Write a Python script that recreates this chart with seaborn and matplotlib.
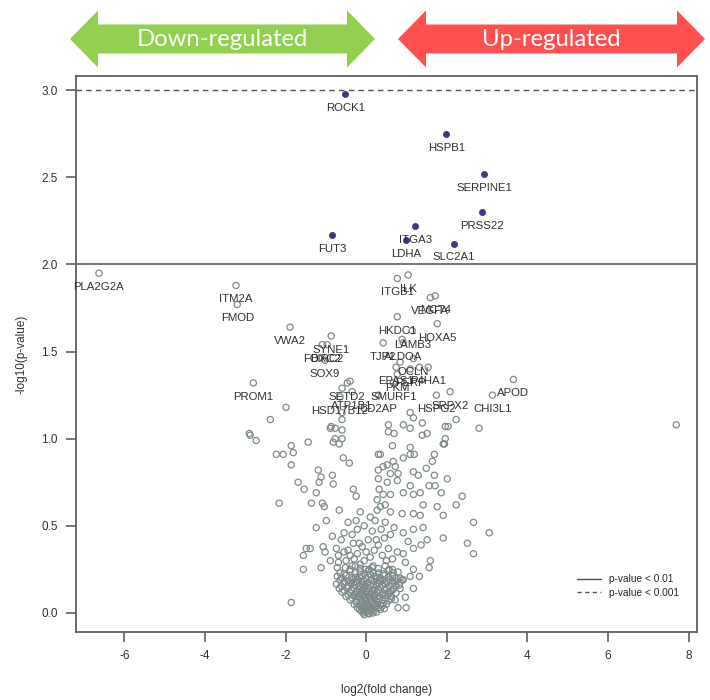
import matplotlib
matplotlib.use("Agg")
import matplotlib.pyplot as plt
import seaborn as sns
import pandas as pd
from matplotlib.patches import Polygon
from matplotlib.lines import Line2D

# genes passing p < 0.01 (filled points)
sig_genes = ["ROCK1", "HSPB1", "SERPINE1", "PRSS22", "ITGA3", "FUT3", "SLC2A1", "LDHA"]
sig_fc = [-0.52, 1.99, 2.93, 2.88, 1.22, -0.84, 2.18, 0.99]
sig_logp = [2.98, 2.75, 2.52, 2.30, 2.22, 2.17, 2.12, 2.14]

# labelled genes below the threshold
lab_genes = ["PLA2G2A", "ITM2A", "FMOD", "VWA2", "SYNE1", "FOXC2", "BIRC2", "SOX9",
             "PROM1", "SETD2", "ATP1B1", "HSD17B12", "SMURF1", "CD2AP", "HSPG2",
             "SRPX2", "CHI3L1", "APOD", "ITGB1", "ILK", "VEGFA", "MCT4", "HKDC1",
             "HOXA5", "LAMB3", "TJP2", "ALDOA", "OCLN", "EPAS1", "PERP", "P4HA1", "PKM"]
lab_fc = [-6.63, -3.23, -3.20, -1.89, -0.87, -1.09, -0.97, -1.02,
          -2.80, -0.47, -0.35, -0.65, 0.67, 0.30, 1.74,
          2.08, 3.13, 3.65, 0.77, 1.04, 1.59, 1.71, 0.77,
          1.76, 1.14, 0.42, 0.92, 1.17, 0.74, 1.09, 1.54, 0.77]
lab_logp = [1.95, 1.88, 1.77, 1.64, 1.59, 1.54, 1.54, 1.45,
            1.32, 1.32, 1.27, 1.24, 1.32, 1.25, 1.25,
            1.27, 1.25, 1.34, 1.92, 1.94, 1.81, 1.82, 1.70,
            1.66, 1.62, 1.55, 1.55, 1.46, 1.41, 1.40, 1.41, 1.37]

# remaining genes, scattered part
bg_spread = [
    (-0.40, 1.33), (-0.60, 1.29), (-1.99, 1.18), (-2.38, 1.11), (-0.89, 1.06),
    (-0.77, 1.06), (-0.60, 1.05), (-0.60, 1.11), (-0.60, 1.15), (-2.90, 1.03),
    (-2.73, 0.99), (-0.77, 1.00), (-0.60, 1.00), (0.89, 1.57), (1.32, 1.41),
    (0.84, 1.44), (1.09, 1.15), (1.17, 1.12), (1.39, 1.09), (0.92, 1.08),
    (1.09, 1.06), (0.55, 1.08), (0.55, 1.04), (0.69, 1.03), (1.51, 1.03),
    (1.39, 1.02), (1.96, 1.07), (2.03, 1.07), (2.23, 1.11), (2.80, 1.06),
    (1.96, 1.00), (1.94, 0.97), (1.69, 0.91), (7.69, 1.08),
    (-1.86, 0.96), (-1.44, 0.98), (-2.23, 0.91), (-2.06, 0.91), (-1.81, 0.92),
    (-1.86, 0.85), (-1.19, 0.82), (-0.84, 0.79), (-1.12, 0.78), (-1.69, 0.75),
    (-1.17, 0.75), (-0.82, 0.74), (-1.54, 0.71), (-1.24, 0.69), (-0.32, 0.71),
    (-0.25, 0.67), (-2.16, 0.63), (-1.36, 0.63), (-1.09, 0.63), (-1.04, 0.61),
    (-0.67, 0.59), (-0.99, 0.53), (-0.45, 0.52), (-0.25, 0.53), (-1.24, 0.49),
    (-0.22, 0.48), (-0.84, 0.44), (-0.55, 0.46), (-0.62, 0.42), (-0.32, 0.40),
    (-0.17, 0.40), (-1.49, 0.37), (-1.39, 0.37), (-1.07, 0.38), (-0.74, 0.37),
    (-1.56, 0.33), (-1.02, 0.35), (-0.69, 0.33), (-0.45, 0.36), (-0.22, 0.34),
    (-0.89, 0.30), (-0.69, 0.29), (-0.35, 0.27), (-0.15, 0.28), (-1.56, 0.25),
    (-1.12, 0.26), (-0.72, 0.26), (-1.86, 0.06), (-2.88, 1.02), (-0.87, 1.07),
    (-0.57, 0.89), (-0.42, 0.86), (-0.82, 0.98), (-0.67, 0.97), (0.30, 0.91),
    (0.65, 0.96), (1.09, 0.95), (1.91, 0.97), (0.35, 0.91), (0.92, 0.89),
    (1.09, 0.91), (1.19, 0.91), (0.67, 0.87), (1.64, 0.87), (0.42, 0.84),
    (0.52, 0.85), (0.72, 0.84), (1.17, 0.81), (1.49, 0.83), (1.29, 0.79),
    (1.69, 0.79), (2.01, 0.77), (0.30, 0.77), (0.60, 0.80), (0.79, 0.80),
    (0.77, 0.76), (0.52, 0.75), (1.09, 0.73), (1.56, 0.73), (1.71, 0.73),
    (1.86, 0.69), (2.38, 0.67), (2.23, 0.62), (1.34, 0.69), (1.17, 0.68),
    (0.92, 0.69), (0.60, 0.68), (0.27, 0.65), (1.41, 0.62), (1.76, 0.61),
    (1.91, 0.56), (1.34, 0.56), (1.17, 0.57), (0.89, 0.57), (0.60, 0.58),
    (0.35, 0.61), (2.66, 0.52), (3.05, 0.46), (1.41, 0.49), (1.17, 0.48),
    (0.92, 0.46), (0.69, 0.49), (0.47, 0.52), (2.51, 0.40), (2.66, 0.34),
    (1.91, 0.43), (1.51, 0.42), (1.36, 0.39), (1.17, 0.37), (1.04, 0.41),
    (0.92, 0.34), (0.77, 0.35), (1.59, 0.30), (1.56, 0.26), (0.97, 0.29),
    (1.17, 0.25), (1.32, 0.21), (1.17, 0.14), (0.97, 0.09), (0.99, 0.03),
    (0.79, 0.03), (1.09, 0.21), (0.89, 0.19), (0.17, 0.27),
    (0.30, 0.82), (0.32, 0.71), (0.27, 0.59), (0.37, 0.48), (0.30, 0.39),
    (0.40, 0.33), (0.25, 0.42), (0.42, 0.68), (0.47, 0.62), (0.22, 0.53),
    (-0.50, 0.30), (-0.30, 0.31), (-0.05, 0.30), (0.10, 0.32), (0.50, 0.30),
    (0.65, 0.31), (-0.40, 0.33), (0.00, 0.35), (0.20, 0.36), (0.55, 0.37),
    (-0.10, 0.38), (-0.55, 0.35), (0.05, 0.42), (0.45, 0.43), (-0.35, 0.45),
    (0.15, 0.47), (0.60, 0.45), (-0.05, 0.50), (0.10, 0.55), (-0.15, 0.58),
]

# remaining genes, dense part near the origin
bg_core = [
    (-0.52, 0.26), (-0.27, 0.27), (-0.02, 0.25), (0.15, 0.26), (0.47, 0.27), (0.65, 0.25),
    (-0.65, 0.23), (-0.40, 0.24), (-0.15, 0.235), (0.05, 0.24), (0.30, 0.23), (0.55, 0.245),
    (0.79, 0.235),
    (-0.72, 0.21), (-0.50, 0.215), (-0.27, 0.205), (-0.10, 0.21), (0.10, 0.22), (0.27, 0.205),
    (0.45, 0.215), (0.65, 0.21), (0.84, 0.20),
    (-0.65, 0.19), (-0.45, 0.185), (-0.32, 0.195), (-0.20, 0.19), (-0.05, 0.185), (0.12, 0.19),
    (0.25, 0.195), (0.40, 0.185), (0.57, 0.19), (0.74, 0.18), (0.92, 0.19),
    (-0.74, 0.165), (-0.55, 0.17), (-0.37, 0.165), (-0.22, 0.17), (-0.10, 0.165), (0.02, 0.17),
    (0.17, 0.16), (0.32, 0.17), (0.47, 0.165), (0.65, 0.17), (0.82, 0.16),
    (-0.67, 0.14), (-0.47, 0.145), (-0.30, 0.14), (-0.17, 0.135), (-0.05, 0.145), (0.07, 0.14),
    (0.20, 0.135), (0.35, 0.145), (0.50, 0.14), (0.67, 0.135), (0.84, 0.14),
    (-0.60, 0.12), (-0.40, 0.115), (-0.25, 0.12), (-0.12, 0.115), (0.00, 0.12), (0.12, 0.115),
    (0.27, 0.12), (0.42, 0.115), (0.57, 0.12), (0.74, 0.115),
    (-0.50, 0.095), (-0.32, 0.10), (-0.20, 0.095), (-0.07, 0.10), (0.05, 0.095), (0.17, 0.10),
    (0.32, 0.095), (0.47, 0.10), (0.62, 0.095),
    (-0.40, 0.075), (-0.25, 0.07), (-0.12, 0.075), (0.00, 0.07), (0.12, 0.075), (0.25, 0.07),
    (0.40, 0.075), (0.55, 0.07), (0.72, 0.075),
    (-0.30, 0.05), (-0.17, 0.045), (-0.05, 0.05), (0.07, 0.045), (0.20, 0.05), (0.35, 0.045),
    (0.50, 0.05),
    (-0.22, 0.03), (-0.10, 0.025), (0.02, 0.03), (0.15, 0.025), (0.30, 0.03), (0.45, 0.025),
    (-0.12, 0.01), (0.00, 0.005), (0.12, 0.01), (0.25, 0.005),
    (-0.05, -0.01), (0.07, -0.005),
    (-0.40, 0.25), (-0.15, 0.255), (0.07, 0.25), (0.30, 0.255), (0.57, 0.25),
    (-0.55, 0.225), (-0.27, 0.23), (-0.05, 0.225), (0.17, 0.23), (0.42, 0.225), (0.67, 0.23),
    (-0.60, 0.20), (-0.37, 0.20), (-0.17, 0.205), (0.00, 0.20), (0.20, 0.21), (0.35, 0.20),
    (0.55, 0.205), (0.74, 0.20),
    (-0.55, 0.18), (-0.40, 0.175), (-0.27, 0.18), (-0.12, 0.18), (0.05, 0.175), (0.20, 0.18),
    (0.32, 0.185), (0.50, 0.18), (0.65, 0.185), (0.84, 0.175),
    (-0.62, 0.155), (-0.45, 0.155), (-0.30, 0.16), (-0.15, 0.155), (-0.02, 0.155),
    (0.10, 0.16), (0.25, 0.155), (0.40, 0.16), (0.57, 0.155), (0.74, 0.155),
    (-0.55, 0.13), (-0.37, 0.13), (-0.22, 0.125), (-0.10, 0.13), (0.02, 0.13), (0.15, 0.125),
    (0.30, 0.13), (0.45, 0.13), (0.62, 0.125),
    (-0.45, 0.105), (-0.27, 0.105), (-0.15, 0.11), (-0.02, 0.105), (0.10, 0.105),
    (0.22, 0.11), (0.40, 0.105), (0.55, 0.105),
    (-0.35, 0.085), (-0.17, 0.085), (-0.05, 0.08), (0.07, 0.085), (0.20, 0.085),
    (0.32, 0.08), (0.47, 0.085), (0.62, 0.08),
    (-0.25, 0.06), (-0.10, 0.06), (0.02, 0.055), (0.15, 0.06), (0.27, 0.06), (0.42, 0.055),
    (-0.15, 0.04), (-0.02, 0.04), (0.10, 0.035), (0.25, 0.04), (0.40, 0.04),
    (-0.17, 0.02), (-0.05, 0.015), (0.07, 0.02), (0.20, 0.015), (0.35, 0.02),
    (-0.07, 0.0), (0.05, -0.002), (0.17, 0.0),
]

x_ticks = [-6, -4, -2, 0, 2, 4, 6, 8]
y_ticks = [0.0, 0.5, 1.0, 1.5, 2.0, 2.5, 3.0]
cut_01 = 2.0    # -log10(0.01)
cut_001 = 3.0   # -log10(0.001)

sns.set_style("white")
plt.rcParams["font.family"] = ["Liberation Sans", "DejaVu Sans"]
plt.rcParams["axes.unicode_minus"] = False

bg = pd.DataFrame(bg_spread + bg_core, columns=["fc", "logp"])
bg = pd.concat([bg, pd.DataFrame({"fc": lab_fc, "logp": lab_logp})], ignore_index=True)
sig = pd.DataFrame({"gene": sig_genes, "fc": sig_fc, "logp": sig_logp})

fig = plt.figure(figsize=(7.1, 7.0), dpi=100)
ax = fig.add_axes([0.107, 0.097, 0.875, 0.794])

grey = "#7f8a8a"
sns.scatterplot(data=bg, x="fc", y="logp", ax=ax, s=20, facecolor="none",
                edgecolor=grey, linewidth=0.9, zorder=2)
sns.scatterplot(data=sig, x="fc", y="logp", ax=ax, s=20, color="#3d3585",
                edgecolor="#3d3585", linewidth=0.5, zorder=3)

line_col = "#505050"
ax.axhline(cut_01, color=line_col, lw=1.1, ls="-", zorder=1)
ax.axhline(cut_001, color=line_col, lw=1.0, ls=(0, (4, 3)), zorder=1)

txt_col = "#303030"
for g, x, y in zip(sig_genes + lab_genes, sig_fc + lab_fc, sig_logp + lab_logp):
    ax.annotate(g, (x, y), xytext=(0, -10), textcoords="offset points",
                ha="center", va="center", fontsize=8.2, color=txt_col, zorder=4)

ax.set_xlim(-7.2, 8.21)
ax.set_ylim(-0.11, 3.08)
ax.set_xticks(x_ticks)
ax.set_xticklabels([str(t) for t in x_ticks])
ax.set_yticks(y_ticks)
ax.set_yticklabels([f"{t:.1f}" for t in y_ticks])
ax.tick_params(axis="both", direction="out", length=7, width=1.1, color=line_col,
               labelsize=8.5, labelcolor=txt_col, pad=6)
ax.tick_params(bottom=True, left=True)
for sp in ax.spines.values():
    sp.set_color("#606060")
    sp.set_linewidth(1.3)

ax.set_xlabel("log2(fold change)", fontsize=8.5, color=txt_col, labelpad=16)
ax.set_ylabel("-log10(p-value)", fontsize=8.5, color=txt_col, labelpad=10)

handles = [Line2D([0], [0], color=line_col, lw=1.0, ls="-"),
           Line2D([0], [0], color=line_col, lw=1.0, ls=(0, (3, 2.5)))]
ax.legend(handles, ["p-value < 0.01", "p-value < 0.001"], loc="lower right",
          bbox_to_anchor=(0.985, 0.045), frameon=False, fontsize=7.3,
          handlelength=2.3, handletextpad=0.8, labelspacing=0.35)


def double_arrow(x0, x1, color, label):
    W, H = 710.0, 700.0
    head = 28
    yc, hh, bh = 39, 28.5, 14.5
    pts = [(x0, yc), (x0 + head, yc - hh), (x0 + head, yc - bh), (x1 - head, yc - bh),
           (x1 - head, yc - hh), (x1, yc), (x1 - head, yc + hh), (x1 - head, yc + bh),
           (x0 + head, yc + bh), (x0 + head, yc + hh)]
    pts = [(px / W, (H - py) / H) for px, py in pts]
    fig.patches.append(Polygon(pts, closed=True, transform=fig.transFigure,
                               facecolor=color, edgecolor="none"))
    fig.text((x0 + x1) / 2 / W, (H - yc) / H, label, ha="center", va="center",
             color="white", fontsize=17.2, fontweight="normal",
             family=["Lato", "DejaVu Sans"])


double_arrow(70, 375, "#92d050", "Down-regulated")
double_arrow(398, 705, "#ff5050", "Up-regulated")

fig.savefig("out.png", dpi=100)
